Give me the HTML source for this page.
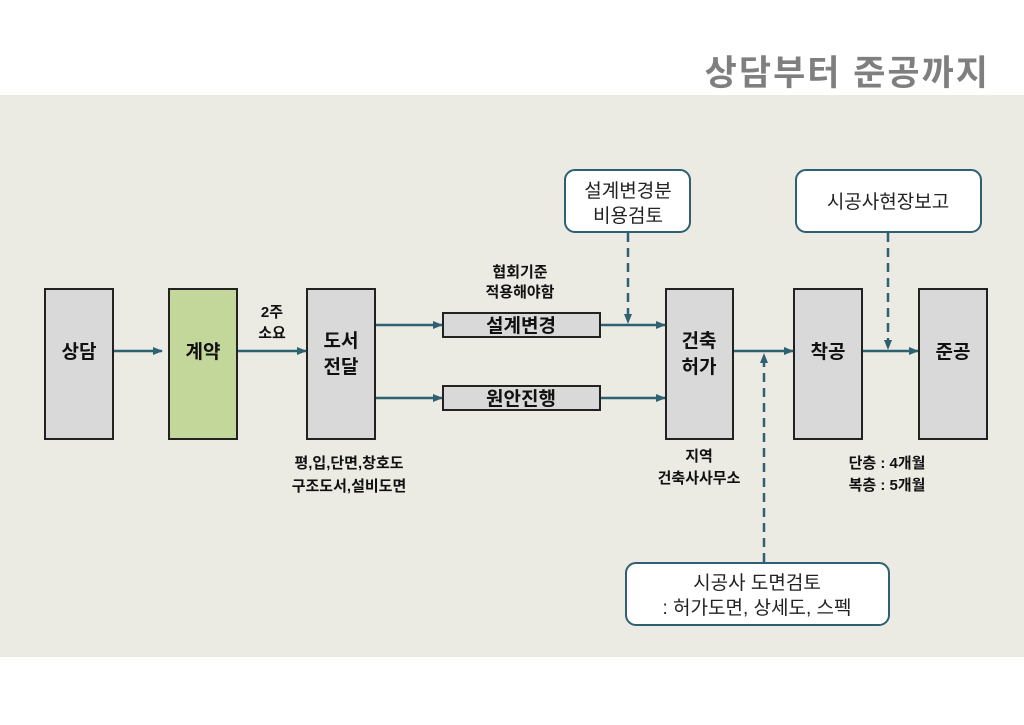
<!DOCTYPE html>
<html><head><meta charset="utf-8"><style>
body{margin:0;width:1024px;height:725px;background:#fff;position:relative;overflow:hidden;font-family:"Liberation Sans","Noto Sans CJK KR",sans-serif}
</style></head><body>
<div style="position:absolute;right:34px;top:45px;font-size:35px;font-weight:bold;color:#7f7f7f;letter-spacing:2px">상담부터 준공까지</div>
<div style="position:absolute;left:0;top:95px;width:1024px;height:562px;background:#ebeae3"></div>
<svg width="1024" height="725" style="position:absolute;left:0;top:0" font-family="Liberation Sans, Noto Sans CJK KR, sans-serif">
<defs><marker id="a" markerWidth="10" markerHeight="8" refX="9" refY="4" orient="auto" markerUnits="userSpaceOnUse"><path d="M0,0L10,4L0,8z" fill="#2e6272"/></marker></defs>
<g stroke="#222" stroke-width="2">
<rect x="45" y="289" width="68" height="150" fill="#d9d9d9"/>
<rect x="169" y="289" width="68" height="150" fill="#c4d79b"/>
<rect x="307" y="289" width="68" height="150" fill="#d9d9d9"/>
<rect x="443" y="313" width="157" height="24" fill="#d9d9d9"/>
<rect x="443" y="386" width="157" height="24" fill="#d9d9d9"/>
<rect x="666" y="289" width="67" height="150" fill="#d9d9d9"/>
<rect x="794" y="289" width="68" height="150" fill="#d9d9d9"/>
<rect x="919" y="289" width="68" height="150" fill="#d9d9d9"/>
</g>
<g stroke="#2e5f72" stroke-width="2" fill="#fff">
<rect x="565" y="170" width="125" height="62" rx="10"/>
<rect x="796" y="170" width="185" height="62" rx="10"/>
<rect x="626" y="563" width="263" height="62" rx="10"/>
</g>
<g stroke="#2e6272" stroke-width="2.5" fill="none">
<line x1="114" y1="351" x2="162" y2="351" marker-end="url(#a)"/>
<line x1="238" y1="351" x2="306" y2="351" marker-end="url(#a)"/>
<line x1="376" y1="325" x2="442" y2="325" marker-end="url(#a)"/>
<line x1="376" y1="398" x2="442" y2="398" marker-end="url(#a)"/>
<line x1="601" y1="325" x2="665" y2="325" marker-end="url(#a)"/>
<line x1="601" y1="398" x2="665" y2="398" marker-end="url(#a)"/>
<line x1="734" y1="351" x2="793" y2="351" marker-end="url(#a)"/>
<line x1="863" y1="351" x2="918" y2="351" marker-end="url(#a)"/>
<g stroke-dasharray="9,6">
<line x1="628" y1="233" x2="628" y2="323" marker-end="url(#a)"/>
<line x1="888" y1="233" x2="888" y2="349" marker-end="url(#a)"/>
<line x1="764" y1="562" x2="764" y2="354" marker-end="url(#a)"/>
</g>
</g>
<g font-weight="bold" font-size="19" text-anchor="middle" fill="#111">
<text x="79" y="358">상담</text>
<text x="203" y="358">계약</text>
<text x="341" y="347">도서</text>
<text x="341" y="373">전달</text>
<text x="521" y="332">설계변경</text>
<text x="521" y="405">원안진행</text>
<text x="699" y="347">건축</text>
<text x="699" y="373">허가</text>
<text x="828" y="358">착공</text>
<text x="953" y="358">준공</text>
</g>
<g font-weight="bold" font-size="15" text-anchor="middle" fill="#111">
<text x="272" y="317">2주</text>
<text x="272" y="338">소요</text>
<text x="520" y="277">협회기준</text>
<text x="520" y="297">적용해야함</text>
<text x="349" y="468">평,입,단면,창호도</text>
<text x="349" y="491">구조도서,설비도면</text>
<text x="699" y="461">지역</text>
<text x="699" y="483">건축사사무소</text>
<text x="887" y="468">단층 : 4개월</text>
<text x="887" y="490">복층 : 5개월</text>
</g>
<g font-size="19" text-anchor="middle" fill="#222">
<text x="628" y="197">설계변경분</text>
<text x="628" y="222">비용검토</text>
<text x="888" y="208">시공사현장보고</text>
<text x="757" y="589">시공사 도면검토</text>
<text x="757" y="614">: 허가도면, 상세도, 스펙</text>
</g>
</svg>
</body></html>
